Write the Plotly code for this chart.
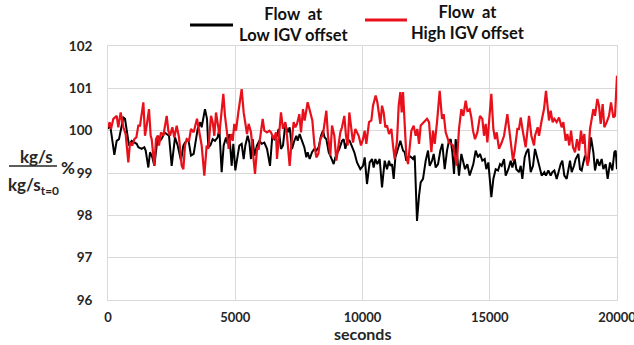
import plotly.graph_objects as go

# Flow at low IGV offset (black)
t_low = [0, 79, 249, 340, 432, 603, 668, 734, 825, 930, 1035, 1127, 1192, 1323, 1428, 1480, 1585, 1651, 1742, 1821,
         1913, 1978, 2044, 2135, 2214, 2306, 2397, 2502, 2633, 2738, 2869, 2961, 3026, 3157,
         3261, 3366, 3444, 3523, 3628, 3680, 3811, 3890, 3942, 4021, 4113, 4204, 4309, 4375, 4466, 4545, 4637, 4702,
         4768, 4859, 4925, 5003, 5095, 5161, 5252, 5331, 5396, 5488, 5554, 5619, 5685, 5750, 5855, 5947, 6038, 6143,
         6248, 6366, 6457, 6536,
         6640, 6706, 6797, 6876, 6968, 7059, 7138, 7230, 7321, 7400, 7452, 7531, 7623, 7714, 7793, 7845, 7924, 8016,
         8107, 8186, 8278, 8369, 8448, 8513, 8579, 8671, 8762, 8867, 8933, 8998, 9090, 9195, 9260, 9326, 9417, 9496,
         9588, 9679, 9784, 9915,
         10020, 10086, 10177, 10282, 10374, 10439, 10505, 10583, 10675, 10767, 10872, 10963, 11042, 11094, 11160,
         11225, 11291, 11396, 11487, 11592, 11658, 11723, 11828, 11920, 11985, 12051, 12142, 12221, 12286, 12378,
         12483, 12575, 12640, 12732, 12797, 12876, 12968, 13059, 13138, 13230, 13321,
         13399, 13465, 13530, 13596, 13661, 13727, 13792, 13884, 13962, 14028, 14120, 14211, 14290, 14355, 14447,
         14539, 14617, 14709, 14801, 14866, 14945, 15063, 15141, 15233, 15325, 15403, 15469, 15561, 15626, 15731,
         15823, 15888, 15980, 16045, 16150, 16216, 16281, 16373, 16438, 16517, 16609, 16700,
         16778, 16883, 16975, 17040, 17145, 17210, 17302, 17394, 17459, 17538, 17630, 17695, 17787, 17852, 17931,
         18023, 18088, 18154, 18219, 18311, 18376, 18481, 18547, 18612, 18678, 18743, 18809, 18874, 18979, 19071,
         19136, 19228, 19306, 19398, 19464, 19555, 19634, 19726, 19817, 19896, 19948, 20000]
flow_low = [100.04, 100.16, 99.43, 99.76, 99.80, 100.31, 100.28, 100.00, 99.65, 99.76, 99.72, 99.69, 99.61, 99.57,
            99.61, 99.53, 99.13, 99.49, 99.37, 99.17, 99.65, 99.88, 99.76, 99.84, 99.96, 99.92, 99.88, 99.17, 99.84,
            99.65, 99.29, 99.65, 99.72, 99.80,
            99.41, 99.45, 99.72, 100.04, 100.20, 100.08, 100.51, 100.28, 99.61, 99.65, 99.80, 99.76, 99.84, 100.04,
            99.02, 99.65, 99.84, 99.69, 99.92, 99.17, 99.69, 99.06, 99.41, 99.65, 99.69, 99.33, 99.65, 99.88, 99.72,
            99.33, 99.80, 99.41, 99.65, 99.76, 99.69, 99.72, 99.57, 99.17, 99.88, 99.80,
            99.88, 100.04, 99.57, 99.65, 100.16, 99.96, 100.08, 99.57, 99.76, 99.88, 99.76, 99.92, 99.76, 99.61,
            99.37, 99.49, 99.33, 99.49, 99.57, 99.53, 99.61, 99.88, 100.00, 99.84, 99.80, 99.49, 99.37, 99.21, 99.37,
            99.45, 99.57, 99.76, 99.80, 99.57, 99.80, 99.76, 99.61, 99.49, 99.25, 99.09,
            99.17, 99.37, 98.74, 99.25, 99.33, 99.13, 99.33, 99.21, 99.33, 98.66, 99.29, 99.09, 99.29, 99.17, 99.21,
            98.86, 99.37, 99.57, 99.76, 99.53, 99.49, 99.29, 99.41, 99.37, 99.33, 99.41, 97.87, 98.46, 98.78, 98.86,
            99.29, 99.53, 99.17, 99.29, 99.45, 99.13, 99.21, 99.53, 99.69, 99.09, 99.53,
            99.76, 99.80, 99.49, 98.98, 99.80, 99.37, 98.94, 99.45, 99.25, 99.09, 99.21, 98.94, 99.09, 99.21, 99.53,
            99.37, 99.45, 99.29, 99.33, 99.09, 99.25, 98.43, 98.86, 99.09, 99.06, 99.21, 99.17, 99.33, 98.94, 99.09,
            99.29, 99.13, 99.33, 99.09, 99.02, 99.17, 98.86, 99.37, 99.49, 99.57, 99.02, 99.17,
            99.57, 99.33, 99.06, 98.94, 99.02, 98.94, 99.06, 98.94, 99.02, 99.06, 98.86, 99.02, 99.21, 99.29, 98.94,
            98.86, 99.09, 99.29, 99.02, 99.17, 99.33, 99.45, 99.09, 99.06, 99.25, 99.41, 99.37, 99.25, 99.84, 99.49,
            99.06, 99.33, 99.17, 99.33, 99.09, 99.21, 98.86, 99.25, 99.06, 99.49, 99.53, 99.09]

# Flow at high IGV offset (red)
t_high = [0, 65, 118, 210, 341, 406, 498, 603, 694, 799, 865, 956, 1035, 1113, 1192, 1258, 1389, 1454, 1520, 1611,
          1677, 1716, 1821, 1886, 1952, 2004, 2083, 2175, 2306, 2371, 2437, 2528, 2607, 2699, 2790, 2895, 2961, 3026,
          3092, 3183,
          3261, 3366, 3497, 3589, 3680, 3785, 3877, 3942, 4047, 4113, 4178, 4244, 4309, 4375, 4532, 4597, 4676, 4741,
          4833, 4899, 4964, 5030, 5121, 5252, 5331, 5396, 5462, 5527, 5619, 5776, 5855, 5920, 6012, 6078, 6143, 6248,
          6340, 6405, 6510, 6602,
          6640, 6706, 6797, 6876, 6968, 7033, 7138, 7203, 7295, 7361, 7426, 7518, 7583, 7662, 7727, 7845, 7950, 8029,
          8107, 8186, 8264, 8343, 8448, 8579, 8644, 8736, 8802, 8893, 8972, 9064, 9129, 9195, 9286, 9352, 9417, 9483,
          9548, 9627, 9719, 9850, 9941,
          10020, 10086, 10151, 10256, 10348, 10413, 10518, 10583, 10649, 10701, 10767, 10832, 10898, 10963, 11042,
          11134, 11199, 11265, 11356, 11422, 11487, 11540, 11592, 11658, 11723, 11789, 11854, 11920, 12011, 12090,
          12155, 12221, 12286, 12352, 12444, 12535, 12614, 12706, 12771, 12837, 12928, 13033, 13125, 13190, 13269,
          13334,
          13399, 13556, 13700, 13792, 13884, 13962, 14054, 14120, 14211, 14277, 14342, 14421, 14513, 14617, 14709,
          14775, 14840, 14906, 15063, 15141, 15207, 15272, 15364, 15469, 15561, 15692, 15783, 15914, 15980, 16085,
          16150, 16216, 16307, 16412, 16543, 16635, 16740,
          16778, 16883, 16935, 17040, 17132, 17210, 17276, 17328, 17394, 17472, 17538, 17630, 17721, 17826, 17892,
          17983, 18049, 18127, 18193, 18271, 18350, 18429, 18507, 18586, 18651, 18717, 18769, 18848, 18940, 19005,
          19071, 19136, 19228, 19293, 19359, 19437, 19503, 19595, 19686, 19765, 19857, 19922, 20000]
flow_high = [100.08, 100.20, 100.04, 100.28, 100.35, 100.08, 100.43, 100.08, 99.92, 99.25, 99.72, 99.65, 99.80,
             99.84, 100.12, 100.12, 100.67, 99.88, 100.12, 100.51, 99.88, 99.80, 99.17, 99.80, 99.88, 99.65, 99.96,
             99.88, 100.35, 100.00, 99.88, 100.08, 99.84, 100.12, 99.84, 99.17, 99.09, 99.65, 99.80, 99.76,
             100.04, 99.96, 100.28, 100.00, 99.65, 98.94, 99.65, 99.57, 100.35, 100.20, 99.88, 100.43, 100.20, 99.92,
             100.87, 100.35, 99.96, 99.57, 99.92, 99.76, 100.16, 100.00, 100.43, 100.98, 100.43, 100.12, 99.92,
             100.16, 99.96, 98.98, 99.57, 99.57, 99.92, 100.28, 100.00, 99.96, 100.00, 99.96, 99.80, 99.96,
             99.33, 99.88, 100.43, 100.04, 100.20, 99.88, 99.17, 99.65, 100.20, 100.08, 100.16, 100.39, 99.96, 100.51,
             100.24, 100.67, 100.43, 100.24, 99.69, 99.37, 99.45, 99.80, 99.92, 100.47, 99.88, 99.41, 100.12, 99.88,
             99.29, 99.65, 99.96, 100.08, 100.35, 99.88, 99.65, 100.43, 100.16, 99.72, 100.04, 99.88, 99.65,
             99.80, 100.00, 99.69, 100.20, 100.24, 100.59, 100.83, 100.67, 100.35, 100.16, 100.59, 100.43, 100.08,
             100.12, 99.92, 100.04, 99.65, 99.33, 99.76, 100.59, 100.91, 100.43, 100.91, 100.12, 99.41, 99.21, 99.61,
             100.00, 100.12, 99.88, 100.04, 99.69, 100.12, 100.16, 100.24, 100.28, 100.20, 99.49, 100.00, 99.69,
             100.20, 100.94, 100.28, 100.39, 99.96, 99.84,
             99.72, 99.65, 99.17, 100.04, 100.51, 100.35, 100.71, 100.47, 100.51, 100.31, 100.00, 99.80, 99.96,
             100.35, 100.28, 99.88, 100.16, 99.72, 100.87, 100.04, 99.80, 99.96, 99.57, 99.72, 99.88, 100.39, 99.92,
             99.29, 99.53, 100.04, 100.04, 100.31, 99.96, 99.61, 100.35, 99.88, 99.65,
             99.88, 100.08, 99.88, 100.24, 100.51, 100.94, 100.59, 100.24, 100.47, 100.20, 100.28, 100.20, 100.31,
             100.08, 100.20, 99.76, 99.92, 99.65, 100.00, 99.61, 99.49, 99.80, 99.53, 100.00, 99.69, 99.92, 99.41,
             99.17, 100.04, 100.28, 100.51, 100.35, 100.75, 100.59, 100.16, 100.63, 100.08, 100.20, 100.35, 100.67,
             100.31, 100.35, 101.30]

x_ticks = [0, 5000, 10000, 15000, 20000]
x_tick_text = ["0", "5000", "10000", "15000", "20000"]
y_ticks = [96, 97, 98, 99, 100, 101, 102]
names = ["Flow  at<br>Low IGV offset", "Flow  at<br>High IGV offset"]
colors = ["#000000", "#e8101a"]

FONT = "Lato"
TXT = "#262626"
GRID = "#d9d9d9"

fig = go.Figure()
fig.add_trace(go.Scatter(x=t_low, y=flow_low, mode="lines", name=names[0],
                         line=dict(color=colors[0], width=2), showlegend=False))
fig.add_trace(go.Scatter(x=t_high, y=flow_high, mode="lines", name=names[1],
                         line=dict(color=colors[1], width=2.2), showlegend=False))

fig.update_layout(
    width=634, height=345,
    margin=dict(l=108, r=17, t=46, b=45, autoexpand=False),
    paper_bgcolor="white", plot_bgcolor="white",
    font=dict(family=FONT, color=TXT),
    showlegend=False,
    xaxis=dict(range=[0, 20000], tickvals=x_ticks, ticktext=x_tick_text, showgrid=True, gridcolor=GRID,
               gridwidth=1, zeroline=False, showline=True, linecolor=GRID, mirror=True, ticks="",
               tickfont=dict(family=FONT, size=13, weight="bold", color=TXT),
               ticklabelstandoff=5, ticklabeloverflow="allow"),
    yaxis=dict(range=[96, 102], tickvals=y_ticks, showgrid=True, gridcolor=GRID, gridwidth=1,
               zeroline=False, showline=True, linecolor=GRID, mirror=True, ticks="",
               tickfont=dict(family=FONT, size=13.5, weight="bold", color=TXT),
               ticklabelstandoff=12),
)

# x-axis title
fig.add_annotation(text="seconds", xref="paper", yref="paper", x=0.5, y=-0.132,
                   xanchor="center", yanchor="middle", showarrow=False,
                   font=dict(family=FONT, size=16, weight="bold", color=TXT))

# legend (line sample + centred two-line label)
leg_font = dict(family=FONT, size=16.5, weight="bold", color="#111")
leg_line_x = [(0.1611, 0.2456), (0.5049, 0.5874)]
leg_line_y = [1.083, 1.102]
leg_text_x = [0.3654, 0.7073]
leg_text_y = [1.083, 1.094]
for i in range(2):
    fig.add_shape(type="line", xref="paper", yref="paper", x0=leg_line_x[i][0], x1=leg_line_x[i][1],
                  y0=leg_line_y[i], y1=leg_line_y[i], line=dict(color=colors[i], width=3))
    fig.add_annotation(text=names[i], xref="paper", yref="paper", x=leg_text_x[i], y=leg_text_y[i],
                       xanchor="center", yanchor="middle", align="center", showarrow=False, font=leg_font)

# y-axis label drawn as a fraction
lab_font = dict(family=FONT, size=17, weight="bold", color=TXT)
fig.add_annotation(text="kg/s", xref="paper", yref="paper", x=-0.141, y=0.565,
                   xanchor="center", yanchor="middle", showarrow=False, font=lab_font)
fig.add_annotation(text="kg/s<sub>t=0</sub>", xref="paper", yref="paper", x=-0.147, y=0.448,
                   xanchor="center", yanchor="middle", showarrow=False, font=lab_font)
fig.add_annotation(text="%", xref="paper", yref="paper", x=-0.0786, y=0.522,
                   xanchor="center", yanchor="middle", showarrow=False, font=lab_font)
fig.add_shape(type="line", xref="paper", yref="paper", x0=-0.1945, x1=-0.1002, y0=0.5276, y1=0.5276,
              line=dict(color=TXT, width=1.5))

fig.write_html("out.html")
